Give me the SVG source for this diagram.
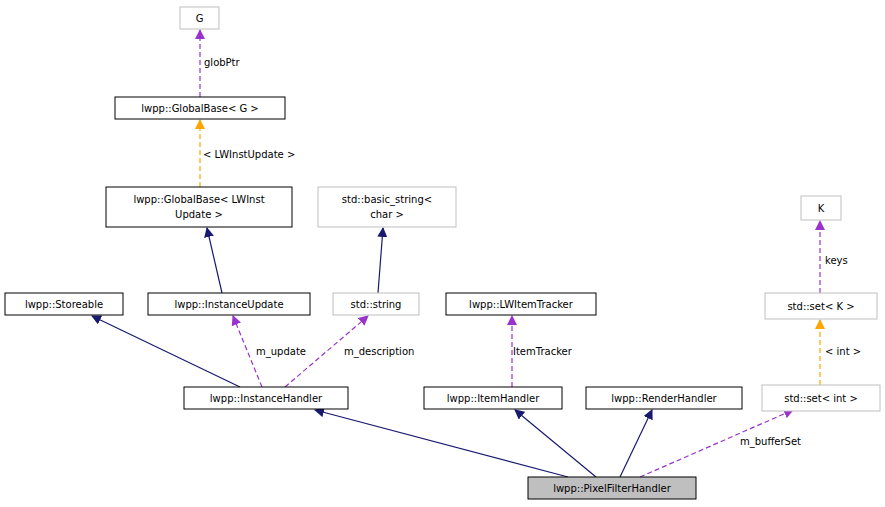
<svg xmlns="http://www.w3.org/2000/svg" width="885" height="507" viewBox="0 0 885 507">
<style>
text{font-family:"DejaVu Sans",sans-serif;font-size:10px;fill:#000}
.n{fill:#fff;stroke:#000;stroke-width:1}
.g{fill:#fff;stroke:#bfbfbf;stroke-width:1}
.inh{stroke:#191970;fill:none;stroke-width:1.2}
.mem{stroke:#9a32cd;fill:none;stroke-width:1.2;stroke-dasharray:5,3}
.tpl{stroke:#ffa500;fill:none;stroke-width:1.2;stroke-dasharray:5,3}
</style>
<defs>
<marker id="an" markerWidth="10" markerHeight="10" refX="9" refY="5" orient="auto" markerUnits="userSpaceOnUse"><path d="M0,0L10,5L0,10z" fill="#191970"/></marker>
<marker id="ap" markerWidth="10" markerHeight="10" refX="9" refY="5" orient="auto" markerUnits="userSpaceOnUse"><path d="M0,0L10,5L0,10z" fill="#9a32cd"/></marker>
<marker id="ao" markerWidth="10" markerHeight="10" refX="9" refY="5" orient="auto" markerUnits="userSpaceOnUse"><path d="M0,0L10,5L0,10z" fill="#ffa500"/></marker>
</defs>
<g id="edges">
<path class="inh" marker-end="url(#an)" d="M568,477L315,410"/>
<path class="inh" marker-end="url(#an)" d="M596,477L515,410"/>
<path class="inh" marker-end="url(#an)" d="M620,477L652,410"/>
<path class="mem" marker-end="url(#ap)" d="M640,477L793,410"/>
<text x="740" y="445">m_bufferSet</text>
<path class="tpl" marker-end="url(#ao)" d="M820,385L820,320"/>
<text x="825" y="355">&lt; int &gt;</text>
<path class="mem" marker-end="url(#ap)" d="M820,293L820,221"/>
<text x="825" y="264">keys</text>
<path class="mem" marker-end="url(#ap)" d="M512,387L512,316"/>
<text x="513" y="355">ItemTracker</text>
<path class="inh" marker-end="url(#an)" d="M240,387L92,316"/>
<path class="mem" marker-end="url(#ap)" d="M262,387L233,316"/>
<text x="256" y="355">m_update</text>
<path class="mem" marker-end="url(#ap)" d="M285,387L368,316"/>
<text x="344" y="355">m_description</text>
<path class="inh" marker-end="url(#an)" d="M222,293L207,228"/>
<path class="inh" marker-end="url(#an)" d="M378,293L383,228"/>
<path class="tpl" marker-end="url(#ao)" d="M200,187L200,120"/>
<text x="203" y="158">&lt; LWInstUpdate &gt;</text>
<path class="mem" marker-end="url(#ap)" d="M200,97L200,30"/>
<text x="204" y="66">globPtr</text>
</g>
<g id="G"><rect class="g" x="180" y="7" width="39" height="22"/><text x="199.5" y="22" text-anchor="middle">G</text></g>
<g id="GlobalBaseG"><rect class="n" x="115" y="97" width="170" height="22"/><text x="200" y="112" text-anchor="middle">lwpp::GlobalBase&lt; G &gt;</text></g>
<g id="GlobalBaseLW"><rect class="n" x="106" y="187" width="186" height="40"/><text x="199" y="203" text-anchor="middle">lwpp::GlobalBase&lt; LWInst</text><text x="199" y="218" text-anchor="middle">Update &gt;</text></g>
<g id="basic_string"><rect class="g" x="318" y="187" width="138" height="40"/><text x="387" y="203" text-anchor="middle">std::basic_string&lt;</text><text x="387" y="218" text-anchor="middle">char &gt;</text></g>
<g id="K"><rect class="g" x="801" y="196" width="40" height="24"/><text x="821" y="212" text-anchor="middle">K</text></g>
<g id="Storeable"><rect class="n" x="5" y="293" width="118" height="22"/><text x="64" y="308" text-anchor="middle">lwpp::Storeable</text></g>
<g id="InstanceUpdate"><rect class="n" x="148" y="293" width="162" height="22"/><text x="229" y="308" text-anchor="middle">lwpp::InstanceUpdate</text></g>
<g id="string"><rect class="g" x="333" y="293" width="86" height="22"/><text x="376" y="308" text-anchor="middle">std::string</text></g>
<g id="LWItemTracker"><rect class="n" x="446" y="293" width="150" height="22"/><text x="521" y="308" text-anchor="middle">lwpp::LWItemTracker</text></g>
<g id="setK"><rect class="g" x="765" y="293" width="112" height="26"/><text x="821" y="310" text-anchor="middle">std::set&lt; K &gt;</text></g>
<g id="InstanceHandler"><rect class="n" x="184" y="387" width="164" height="22"/><text x="266" y="402" text-anchor="middle">lwpp::InstanceHandler</text></g>
<g id="ItemHandler"><rect class="n" x="424" y="387" width="138" height="22"/><text x="493" y="402" text-anchor="middle">lwpp::ItemHandler</text></g>
<g id="RenderHandler"><rect class="n" x="586" y="387" width="156" height="22"/><text x="664" y="402" text-anchor="middle">lwpp::RenderHandler</text></g>
<g id="setInt"><rect class="g" x="762" y="385" width="118" height="26"/><text x="821" y="402" text-anchor="middle">std::set&lt; int &gt;</text></g>
<g id="PixelFilterHandler"><rect x="528" y="477" width="168" height="22" fill="#bfbfbf" stroke="#000"/><text x="612" y="492" text-anchor="middle">lwpp::PixelFilterHandler</text></g>
</svg>
